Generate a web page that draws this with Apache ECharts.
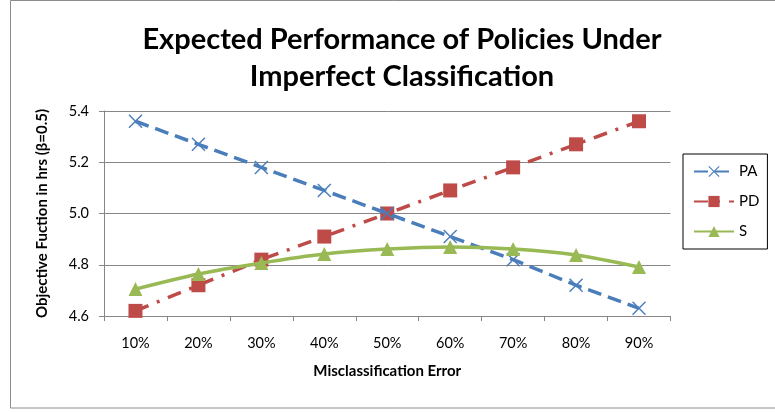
<!DOCTYPE html>
<html><head><meta charset="utf-8">
<script src="https://cdn.jsdelivr.net/npm/echarts@6/dist/echarts.min.js"></script>
<style>html,body{margin:0;padding:0;background:#fff}#c{width:775px;height:412px}</style>
</head><body><div id="c"></div>
<script>
const categories = ['10%','20%','30%','40%','50%','60%','70%','80%','90%'];
const paValues = [5.36, 5.27, 5.18, 5.09, 5.00, 4.91, 4.82, 4.72, 4.63];
const pdValues = [4.62, 4.72, 4.82, 4.91, 5.00, 5.09, 5.18, 5.27, 5.36];
const sValues  = [4.705, 4.764, 4.807, 4.842, 4.861, 4.869, 4.861, 4.838, 4.791];
const seriesNames = ['PA', 'PD', 'S'];

const FONT = 'Lato, "Open Sans", sans-serif';
const X_PATH = 'path://M0,1 L1,0 L7,6 L13,0 L14,1 L8,7 L14,13 L13,14 L7,8 L1,14 L0,13 L6,7 Z';

const chart = echarts.init(document.getElementById('c'), null, {renderer: 'canvas'});
chart.setOption({
  animation: false,
  backgroundColor: '#fff',
  textStyle: {fontFamily: FONT},
  title: {
    text: 'Expected Performance of Policies Under\nImperfect Classification',
    left: 397, top: 16, textAlign: 'center',
    textStyle: {fontFamily: FONT, fontWeight: 'bold', fontSize: 29, lineHeight: 37, color: '#000'}
  },
  graphic: [{
    type: 'rect', shape: {x: 10.5, y: 0.5, width: 800, height: 407.5},
    style: {fill: 'none', stroke: '#8c8c8c', lineWidth: 1}, silent: true, z: -1
  }],
  legend: {
    orient: 'vertical', left: 683, top: 154,
    padding: [10, 8, 10, 10], itemGap: 15, itemWidth: 40, itemHeight: 14,
    borderColor: '#000', borderWidth: 1,
    textStyle: {fontFamily: FONT, fontSize: 15, color: '#000'},
    data: seriesNames
  },
  grid: {left: 104, right: 104.5, top: 111, bottom: 96, containLabel: false},
  xAxis: {
    type: 'category', data: categories, boundaryGap: true,
    name: 'Misclassification Error', nameLocation: 'middle', nameGap: 48,
    nameTextStyle: {fontFamily: FONT, fontWeight: 'bold', fontSize: 15, color: '#000'},
    axisLine: {lineStyle: {color: '#868686', width: 1}},
    axisTick: {show: true, alignWithLabel: false, length: 5, lineStyle: {color: '#868686'}},
    axisLabel: {fontFamily: FONT, fontSize: 14.5, color: '#000', margin: 20},
    splitLine: {show: false}
  },
  yAxis: {
    type: 'value', min: 4.6, max: 5.4, interval: 0.2,
    name: 'Objective Fuction in hrs (β=0.5)', nameLocation: 'middle', nameGap: 54,
    nameTextStyle: {fontFamily: FONT, fontWeight: 'bold', fontSize: 15, color: '#000'},
    axisLine: {show: true, lineStyle: {color: '#868686', width: 1}},
    axisTick: {show: true, length: 5, lineStyle: {color: '#868686'}},
    axisLabel: {fontFamily: FONT, fontSize: 14.5, color: '#000', margin: 15,
      formatter: v => v.toFixed(1)},
    splitLine: {show: true, lineStyle: {color: '#868686', width: 1}}
  },
  series: [
    {
      name: seriesNames[0], type: 'line', data: paValues,
      symbol: X_PATH, symbolSize: 14,
      itemStyle: {color: '#4a7ebb'},
      lineStyle: {color: '#4a7ebb', width: 3.5, type: [14, 7]},
      z: 3
    },
    {
      name: seriesNames[1], type: 'line', data: pdValues,
      symbol: 'rect', symbolSize: 14,
      itemStyle: {color: '#be4b48'},
      lineStyle: {color: '#be4b48', width: 3.5, type: [14, 9, 3, 9]},
      z: 2
    },
    {
      name: seriesNames[2], type: 'line', data: sValues, smooth: 0.3,
      symbol: 'triangle', symbolSize: 14,
      itemStyle: {color: '#98b954'},
      lineStyle: {color: '#98b954', width: 3.5, type: 'solid'},
      z: 4
    }
  ]
});
</script>
</body></html>
